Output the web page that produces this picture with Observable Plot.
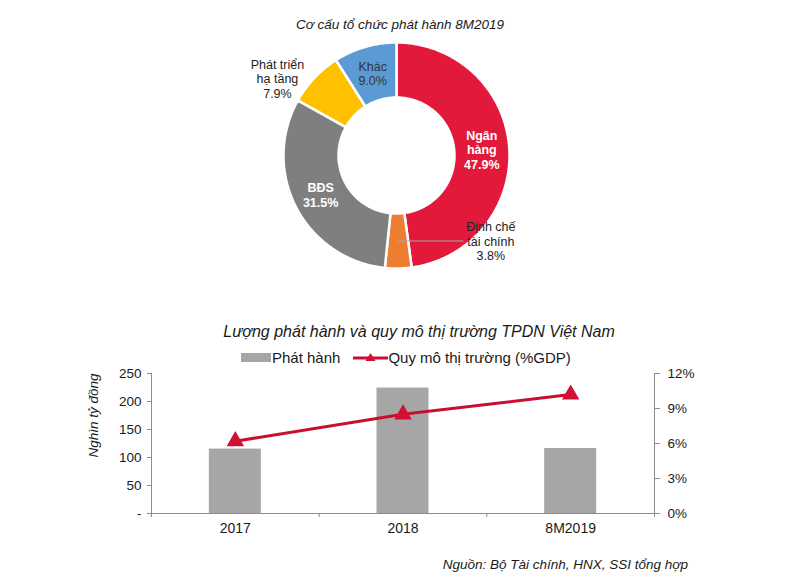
<!DOCTYPE html>
<html>
<head>
<meta charset="utf-8">
<script src="https://cdn.jsdelivr.net/npm/d3@7"></script>
<script src="https://cdn.jsdelivr.net/npm/@observablehq/plot@0.6"></script>
<style>
  html, body { margin: 0; padding: 0; background: #fff; }
  #page { position: relative; width: 800px; height: 587px; background: #fff; font-family: "Liberation Sans", Arial, sans-serif; color: #1a1a1a; overflow: hidden; }
  .abs { position: absolute; }
  svg { overflow: visible; }
</style>
</head>
<body>
<div id="page">
  <div id="donut" class="abs" style="left:0;top:0;"></div>
  <div id="bars" class="abs" style="left:0;top:300px;"></div>
  <div class="abs" style="left:0;top:17px;width:800px;text-align:center;font-style:italic;font-size:13.5px;line-height:16px;">Cơ cấu tổ chức phát hành 8M2019</div>
  <div class="abs" style="left:19px;top:322px;width:800px;text-align:center;font-style:italic;font-size:16px;line-height:20px;">Lượng phát hành và quy mô thị trường TPDN Việt Nam</div>
  <div id="legend" class="abs" style="left:241px;top:348px;display:flex;align-items:center;font-size:15px;line-height:19px;">
    <span style="display:inline-block;width:30px;height:9px;background:#a6a6a6;"></span>
    <span style="margin-left:1px;">Phát hành</span>
    <svg width="35" height="16" style="margin-left:13px;display:block;">
      <line x1="0" x2="35" y1="8" y2="8" stroke="#c8102e" stroke-width="3"></line>
      <path d="M17.5,3 L22.5,11 L12.5,11 Z" fill="#d21034"></path>
    </svg>
    <span style="margin-left:0px;">Quy mô thị trường (%GDP)</span>
  </div>
  <div class="abs" style="right:112px;top:556px;font-style:italic;font-size:13.5px;line-height:18px;">Nguồn: Bộ Tài chính, HNX, SSI tổng hợp</div>
</div>
<script>
// ---- Donut data ----
const shareNames = ["Ngân hàng", "Định chế tài chính", "BĐS", "Phát triển hạ tầng", "Khác"];
const shareLabelLines = ["Ngân\nhàng", "Định chế\ntài chính", "BĐS", "Phát triển\nhạ tầng", "Khác"];
const shareValues = [47.9, 3.8, 31.5, 7.9, 9.0];
const shareColors = ["#e2193b", "#ed7d31", "#7f7f7f", "#ffc000", "#5b9bd5"];

// ---- Bar/line data ----
const years = ["2017", "2018", "8M2019"];
const issuance = [115, 224, 116];
const marketPct = [6.2, 8.5, 10.2];
const leftTicks = [0, 50, 100, 150, 200, 250];
const rightTicks = [0, 3, 6, 9, 12];

const FONT = "'Liberation Sans', Arial, sans-serif";

// ----- Donut -----
const innerRatio = 58 / 113;
const arcs = d3.pie().sort(null).value(d => d)(shareValues);
const polyRows = [];
arcs.forEach((a, i) => {
  const n = Math.max(3, Math.ceil((a.endAngle - a.startAngle) / 0.02));
  for (let k = 0; k <= n; k++) {
    const t = a.startAngle + (a.endAngle - a.startAngle) * k / n;
    polyRows.push({k: i, c: shareColors[i], x: Math.sin(t), y: Math.cos(t)});
  }
  for (let k = n; k >= 0; k--) {
    const t = a.startAngle + (a.endAngle - a.startAngle) * k / n;
    polyRows.push({k: i, c: shareColors[i], x: Math.sin(t) * innerRatio, y: Math.cos(t) * innerRatio});
  }
});
const mid = (a) => (a.startAngle + a.endAngle) / 2;
const labelRows = arcs.map((a, i) => {
  const rr = (1 + innerRatio) / 2;
  return {
    i,
    text: shareLabelLines[i] + "\n" + shareValues[i].toFixed(1) + "%",
    x: Math.sin(mid(a)) * rr, y: Math.cos(mid(a)) * rr,
    ox: Math.sin(mid(a)), oy: Math.cos(mid(a))
  };
});
const insideBold = labelRows.filter(d => d.i === 0 || d.i === 2);
const insideReg = labelRows.filter(d => d.i === 4);
const infra = labelRows.filter(d => d.i === 3);
const fin = labelRows.filter(d => d.i === 1);

const donut = Plot.plot({
  width: 800, height: 290,
  x: {domain: [-1, 1], range: [283, 509], axis: null},
  y: {domain: [-1, 1], range: [268, 42], axis: null},
  color: {type: "identity"},
  style: {fontFamily: FONT, background: "transparent", overflow: "visible"},
  marks: [
    Plot.line(polyRows, {x: "x", y: "y", z: "k", fill: "c", stroke: "white", strokeWidth: 2.5, curve: "linear-closed"}),
    Plot.text(insideBold, {x: "x", y: "y", text: "text", fill: "white", fontWeight: "bold", fontSize: 12.5, lineHeight: 1.15}),
    Plot.text(insideReg, {x: "x", y: "y", text: "text", fill: "#333", fontSize: 12.5, lineHeight: 1.15}),
    Plot.text(infra, {x: "ox", y: "oy", text: "text", fill: "#222", fontSize: 12.5, lineHeight: 1.15, dx: -37, dy: 1}),
    Plot.ruleY(fin, {y: "y", x1: "x", x2: d => d.x + 66 / 113, stroke: "#a8a8a8", strokeWidth: 1}),
    Plot.text(fin, {x: "x", y: "y", text: "text", fill: "#222", fontSize: 12.5, lineHeight: 1.15, dx: 93})
  ]
});
document.getElementById("donut").appendChild(donut);

// ----- Bar + line -----
const k = 250 / 12;
const bw = 0.155;
const bars = Plot.plot({
  width: 800, height: 250,
  marginTop: 73, marginBottom: 37, marginLeft: 151, marginRight: 146,
  x: {domain: [0, 3]},
  y: {domain: [0, 250]},
  style: {fontFamily: FONT, fontSize: "13px", color: "#1a1a1a", background: "transparent", overflow: "visible"},
  marks: [
    Plot.rectY(years, {x1: (d, i) => i + 0.5 - bw, x2: (d, i) => i + 0.5 + bw, y: (d, i) => issuance[i], fill: "#a6a6a6"}),
    Plot.ruleY([0], {stroke: "#8c8c8c"}),
    Plot.ruleX([0, 3], {stroke: "#8c8c8c"}),
    Plot.axisY({ticks: leftTicks, tickSize: 4, tickPadding: 6, stroke: "#8c8c8c", fontSize: 13.5, label: null,
      tickFormat: d => d === 0 ? "-" : String(d)}),
    Plot.axisY({anchor: "right", ticks: rightTicks.map(p => p * k), tickSize: 5, tickPadding: 8, stroke: "#8c8c8c", fontSize: 13.5, label: null,
      tickFormat: v => Math.round(v / k) + "%"}),
    Plot.axisX({ticks: [0, 1, 2, 3], tickSize: 4, stroke: "#8c8c8c", label: null, tickFormat: () => ""}),
    Plot.axisX({ticks: [0.5, 1.5, 2.5], tickSize: 0, tickPadding: 10, fontSize: 14, label: null,
      tickFormat: v => years[Math.floor(v)]}),
    Plot.line(years, {x: (d, i) => i + 0.5, y: (d, i) => marketPct[i] * k, stroke: "#c8102e", strokeWidth: 3}),
    Plot.dot(years, {x: (d, i) => i + 0.5, y: (d, i) => marketPct[i] * k, symbol: "triangle", r: 6.5, fill: "#d21034", stroke: "none"}),
    Plot.text(["Nghìn tỷ đồng"], {frameAnchor: "left", dx: -58, dy: -28, rotate: -90, fontStyle: "italic", fontSize: 13.5, textAnchor: "middle", lineAnchor: "middle", fill: "#1a1a1a"})
  ]
});
document.getElementById("bars").appendChild(bars);
</script>
</body>
</html>
